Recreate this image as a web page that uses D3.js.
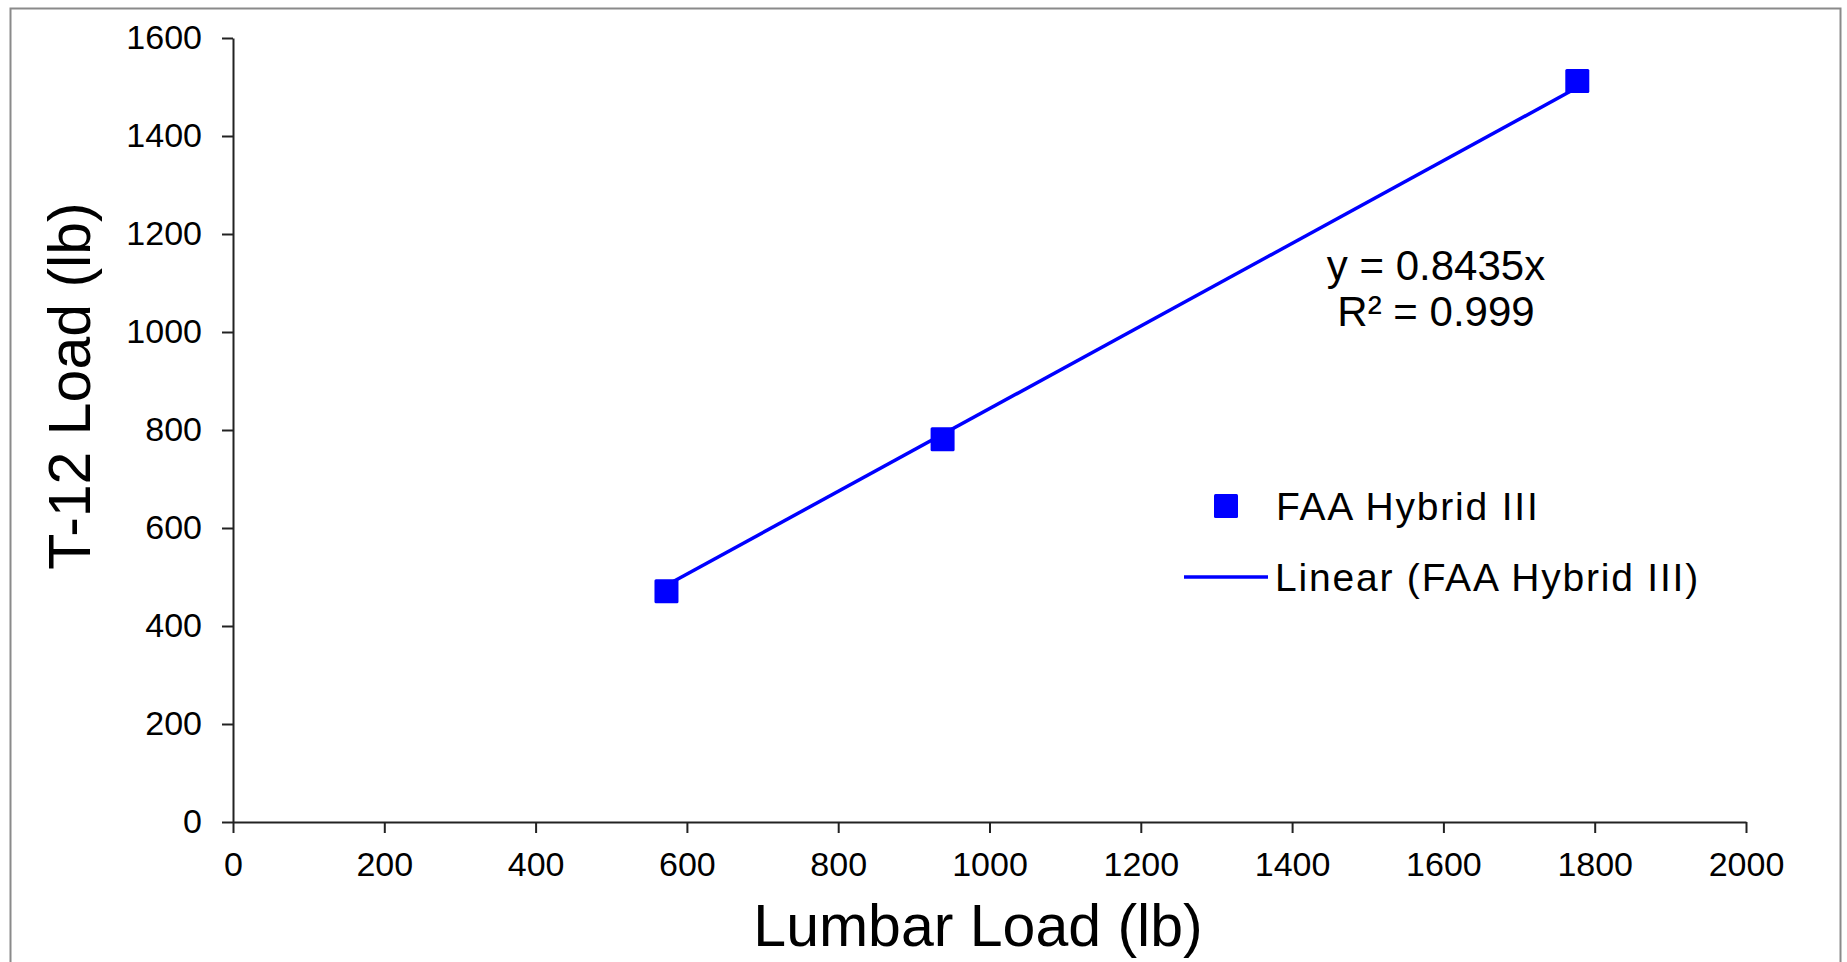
<!DOCTYPE html>
<html>
  <head>
    <title>T-12 vs Lumbar Load</title>
    <style>
      body { margin: 0; background: #fff; }
      text { font-family: "Liberation Sans", Arial, sans-serif; fill: #000; }
    </style>
  </head>
  <body>
    <svg width="1847" height="962"></svg>

    <script src="https://d3js.org/d3.v7.min.js"></script>
    <script>

      // values
      var lumbar = [573, 938, 1777];
      var t12 = [471, 781, 1512];
      var slope = 0.8435;
      var rSquared = 0.999;
      var xTicks = [0, 200, 400, 600, 800, 1000, 1200, 1400, 1600, 1800, 2000];
      var yTicks = [0, 200, 400, 600, 800, 1000, 1200, 1400, 1600];
      var seriesName = "FAA Hybrid III";

      var data = lumbar.map(function (d, i) {
        return { x: d, y: t12[i] };
      });

      var svg = d3.select("svg"),
        margin = { top: 38, right: 101, bottom: 140, left: 233 },
        width = +svg.attr("width"),
        height = +svg.attr("height");

      // outer frame
      svg.append("rect")
        .attr("x", 10.5)
        .attr("y", 8.5)
        .attr("width", 1830)
        .attr("height", 980)
        .attr("fill", "none")
        .attr("stroke", "#8a8a8a")
        .attr("stroke-width", 2);

      var x = d3.scaleLinear()
        .domain([0, 2000])
        .range([margin.left, width - margin.right]);

      var y = d3.scaleLinear()
        .domain([0, 1600])
        .range([height - margin.bottom, margin.top]);

      var fmt = d3.format("d");

      var xAxis = svg.append("g")
        .attr("transform", "translate(0," + y(0) + ")")
        .call(d3.axisBottom(x).tickValues(xTicks).tickFormat(fmt)
          .tickSize(11).tickPadding(19).tickSizeOuter(0));

      var yAxis = svg.append("g")
        .attr("transform", "translate(" + x(0) + ",0)")
        .call(d3.axisLeft(y).tickValues(yTicks).tickFormat(fmt)
          .tickSize(11).tickPadding(20).tickSizeOuter(0));

      [xAxis, yAxis].forEach(function (g) {
        g.select(".domain").attr("stroke", "#222").attr("stroke-width", 2);
        g.selectAll(".tick line").attr("stroke", "#222").attr("stroke-width", 2);
        g.selectAll(".tick text")
          .attr("font-family", "Liberation Sans, Arial, sans-serif")
          .attr("font-size", 34)
          .attr("fill", "#000");
      });

      // trendline through origin, drawn over the data range
      var xr = d3.extent(lumbar);
      svg.append("line")
        .attr("x1", x(xr[0]))
        .attr("y1", y(slope * xr[0]))
        .attr("x2", x(xr[1]))
        .attr("y2", y(slope * xr[1]))
        .attr("stroke", "#0000ff")
        .attr("stroke-width", 3.5);

      svg.append("g")
        .selectAll("rect")
        .data(data)
        .enter().append("rect")
        .attr("x", function (d) { return x(d.x) - 12; })
        .attr("y", function (d) { return y(d.y) - 12; })
        .attr("width", 24)
        .attr("height", 24)
        .attr("rx", 1.5)
        .attr("fill", "#0000ff");

      // equation
      var eq = svg.append("g").attr("text-anchor", "middle").attr("font-size", 42);
      eq.append("text").attr("x", 1436).attr("y", 280).text("y = " + slope + "x");
      eq.append("text").attr("x", 1436).attr("y", 326).text("R\u00b2 = " + rSquared);

      // legend
      var legend = svg.append("g").attr("font-size", 39).style("letter-spacing", "1.8px");
      legend.append("rect")
        .attr("x", 1214).attr("y", 494).attr("width", 24).attr("height", 24)
        .attr("rx", 1.5).attr("fill", "#0000ff");
      legend.append("text").attr("x", 1276).attr("y", 520).text(seriesName);
      legend.append("line")
        .attr("x1", 1184).attr("x2", 1268).attr("y1", 577).attr("y2", 577)
        .attr("stroke", "#0000ff").attr("stroke-width", 3.5);
      legend.append("text").attr("x", 1275).attr("y", 591).text("Linear (" + seriesName + ")");

      // axis titles
      svg.append("text")
        .attr("x", 978)
        .attr("y", 946)
        .attr("text-anchor", "middle")
        .attr("font-size", 59)
        .text("Lumbar Load (lb)");

      svg.append("text")
        .attr("transform", "translate(90,386) rotate(-90)")
        .attr("text-anchor", "middle")
        .attr("font-size", 59)
        .text("T-12 Load (lb)");

    </script>
  </body>
</html>
